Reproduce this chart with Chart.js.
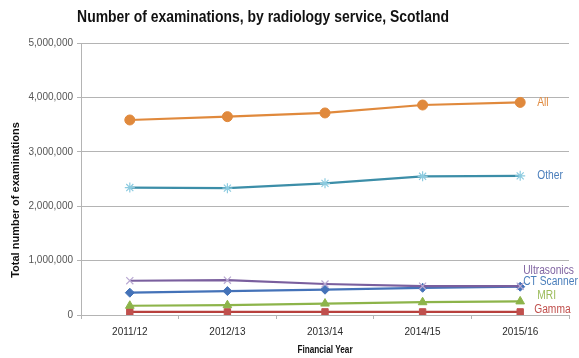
<!DOCTYPE html>
<html>
<head>
<meta charset="utf-8">
<script src="https://cdn.jsdelivr.net/npm/chart.js@4.4.1/dist/chart.umd.min.js"></script>
<style>
  html, body { margin: 0; padding: 0; background: #ffffff; }
  #wrap { width: 579px; height: 358px; position: relative; }
</style>
</head>
<body>
<div id="wrap"><canvas id="c" width="579" height="358"></canvas></div>
<script>
// Financial years on the x axis
const years = ['2011/12', '2012/13', '2013/14', '2014/15', '2015/16'];

// Examinations per service and year
const allServices = [3585000, 3646000, 3714000, 3860000, 3908000];
const other       = [2343000, 2332000, 2420000, 2550000, 2558000];
const ultrasonics = [630000, 640000, 570000, 530000, 530000];
const ctScanner   = [410000, 440000, 465000, 500000, 520000];
const mri         = [170000, 180000, 210000, 235000, 250000];
const gamma       = [58000, 58000, 58000, 57000, 57000];

// Value axis ticks
const yTicks = [0, 1000000, 2000000, 3000000, 4000000, 5000000];

const chartTitle = 'Number of examinations, by radiology service, Scotland';
const yTitle = 'Total number of examinations';
const xTitle = 'Financial Year';

const SANS = '"Liberation Sans", Arial, sans-serif';
// Horizontal squeeze that gives the narrow, Calibri-like text width
const SQUEEZE = 0.82;

// Series appearance and end-label placement
const seriesStyle = [
  { name: 'All',         data: allServices, line: '#E0893C', point: '#E0893C', shape: 'circle',   r: 5,   text: '#E0893C', dx: 17, dy: 0 },
  { name: 'Other',       data: other,       line: '#3C8EA8', point: '#8CCBE0', shape: 'star',     r: 5,   text: '#4A7EBB', dx: 17, dy: 0 },
  { name: 'Ultrasonics', data: ultrasonics, line: '#7A5F9E', point: '#B9A9D2', shape: 'crossRot', r: 5,   text: '#8064A2', dx: 3,  dy: -16 },
  { name: 'CT Scanner',  data: ctScanner,   line: '#4472B8', point: '#4472B8', shape: 'rectRot',  r: 4.5, text: '#4A7EBB', dx: 3,  dy: -5 },
  { name: 'MRI',         data: mri,         line: '#8DB44A', point: '#8DB44A', shape: 'triangle', r: 5,   text: '#9BBB59', dx: 17, dy: -6 },
  { name: 'Gamma',       data: gamma,       line: '#B8413E', point: '#C0504D', shape: 'rect',     r: 4.5, text: '#C0504D', dx: 14, dy: -2 }
];

function squeezedText(ctx, text, x, y, align) {
  ctx.save();
  ctx.translate(x, y);
  ctx.scale(SQUEEZE, 1);
  ctx.textAlign = align;
  ctx.fillText(text, 0, 0);
  ctx.restore();
}

// Draws the titles and the series names beside the last points
const annotate = {
  id: 'annotate',
  afterDraw(chart) {
    const ctx = chart.ctx;
    const area = chart.chartArea;
    ctx.save();
    ctx.textBaseline = 'middle';

    ctx.fillStyle = '#111111';
    ctx.font = 'bold 17px ' + SANS;
    squeezedText(ctx, chartTitle, 263, 17, 'center');

    ctx.font = 'bold 10px ' + SANS;
    squeezedText(ctx, xTitle, (area.left + area.right) / 2, 350, 'center');

    ctx.save();
    ctx.translate(16, 200);
    ctx.rotate(-Math.PI / 2);
    ctx.font = 'bold 11px ' + SANS;
    ctx.textAlign = 'center';
    ctx.fillText(yTitle, 0, 0);
    ctx.restore();

    ctx.font = '12.5px ' + SANS;
    seriesStyle.forEach((s, i) => {
      const meta = chart.getDatasetMeta(i);
      const pt = meta.data[meta.data.length - 1];
      ctx.fillStyle = s.text;
      squeezedText(ctx, s.name, pt.x + s.dx, pt.y + s.dy, 'left');
    });
    ctx.restore();
  }
};

new Chart(document.getElementById('c'), {
  type: 'line',
  data: {
    labels: years,
    datasets: seriesStyle.map(s => ({
      label: s.name,
      data: s.data,
      borderColor: s.line,
      backgroundColor: s.point,
      pointBackgroundColor: s.point,
      pointBorderColor: s.point,
      pointStyle: s.shape,
      pointRadius: s.r,
      pointBorderWidth: (s.shape === 'star' || s.shape === 'crossRot') ? 1.2 : 1,
      borderWidth: 2.2,
      tension: 0,
      fill: false
    }))
  },
  options: {
    responsive: false,
    animation: false,
    devicePixelRatio: 1,
    layout: { padding: { top: 43, right: 10, left: 0, bottom: 0 } },
    plugins: {
      legend: { display: false },
      title: { display: false },
      tooltip: { enabled: false }
    },
    scales: {
      x: {
        type: 'category',
        offset: true,
        grid: { display: true, offset: true, drawOnChartArea: false, drawTicks: true, tickLength: 4, color: '#B4B4B4' },
        border: { display: true, color: '#B4B4B4', width: 1 },
        ticks: { color: '#2A2A2A', font: { family: SANS, size: 10 }, padding: 7, maxRotation: 0 },
        afterFit(scale) { scale.height = 43; }
      },
      y: {
        min: 0,
        max: 5000000,
        afterBuildTicks(scale) { scale.ticks = yTicks.map(v => ({ value: v })); },
        grid: { color: '#B4B4B4', lineWidth: 1, tickLength: 4, drawTicks: true },
        border: { display: true, color: '#B4B4B4', width: 1 },
        ticks: {
          color: '#555555',
          font: { family: SANS, size: 10 },
          padding: 4,
          callback: v => v.toLocaleString('en-US')
        },
        afterFit(scale) { scale.width = 81; }
      }
    }
  },
  plugins: [annotate]
});
</script>
</body>
</html>
